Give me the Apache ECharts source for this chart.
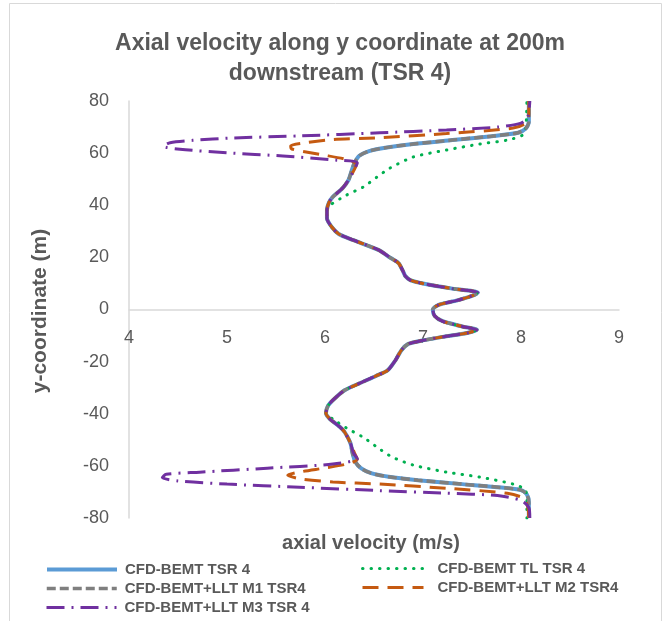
<!DOCTYPE html>
<html>
<head>
<meta charset="utf-8">
<script src="https://cdn.jsdelivr.net/npm/echarts@6/dist/echarts.min.js"></script>
<style>
  html, body { margin: 0; padding: 0; background: #fff; }
  #chart { width: 665px; height: 621px; }
</style>
</head>
<body>
<div id="chart"></div>
<script>
// 坐标轴刻度
const xTicks = [4, 5, 6, 7, 8, 9];
const yTicks = [-80, -60, -40, -20, 0, 20, 40, 60, 80];

// 各曲线共用的中间段 [速度, y]
const coreProfile = [
  [6.26, -51.3], [6.2, -47], [6.15, -45], [6.05, -42], [6.01, -39.8], [6.03, -37],
  [6.08, -34.8], [6.2, -31], [6.36, -28.2], [6.52, -25.5], [6.64, -23.3], [6.72, -19.4],
  [6.78, -15.6], [6.85, -13.2], [6.98, -12], [7.2, -10.5], [7.45, -9], [7.55, -7.8],
  [7.4, -6.5], [7.2, -4.5], [7.12, -2.5], [7.1, 0], [7.16, 1.8], [7.35, 3.5],
  [7.52, 5.5], [7.56, 6.5], [7.3, 8], [7.0, 10], [6.87, 11.3], [6.82, 12.8],
  [6.8, 14.4], [6.75, 17.8], [6.66, 20], [6.55, 22.8], [6.29, 26.6], [6.14, 29],
  [6.07, 31.6], [6.02, 35], [6.02, 38.1], [6.04, 41], [6.08, 43.2], [6.18, 46.6],
  [6.24, 49.7]
];

// CFD-BEMT TSR 4 / M1 的尾流段
const bemtBottom = [
  [8.08, -80], [8.08, -74], [8.06, -71], [8.0, -69.3], [7.8, -68.3], [7.4, -67],
  [6.95, -65.5], [6.65, -64.2], [6.47, -62.8], [6.37, -61], [6.31, -58.5], [6.28, -55]
];
const bemtTop = [
  [6.27, 53], [6.3, 56.2], [6.35, 59], [6.45, 60.8], [6.6, 62], [6.9, 63.5],
  [7.3, 65], [7.7, 66.5], [7.97, 67.8], [8.05, 69.5], [8.08, 72], [8.08, 80]
];

// TL
const tlBottom = [
  [8.06, -80], [8.06, -72], [8.04, -69], [7.92, -67], [7.58, -64.3], [7.24, -62.4],
  [6.9, -59.7], [6.68, -56.5], [6.53, -52.8], [6.39, -49], [6.22, -45.5], [6.08, -42]
];
const tlTop = [
  [6.05, 40], [6.22, 43.9], [6.39, 47], [6.53, 50.8], [6.66, 54.2], [6.9, 58.5],
  [7.24, 61.2], [7.58, 63.5], [7.86, 65], [8.02, 67], [8.05, 70], [8.06, 80]
];

// M2
const m2Bottom = [
  [8.08, -80], [8.07, -76], [8.03, -72.5], [7.86, -70.5], [7.24, -68.6], [6.56, -67],
  [6.08, -66.2], [5.75, -65], [5.62, -63.6], [5.75, -62.3], [6.0, -60.8], [6.22, -59.3],
  [6.33, -57.5], [6.3, -55]
];
const m2Top = [
  [6.29, 53], [6.32, 55.5], [6.25, 57.3], [5.95, 59.5], [5.66, 61.6], [5.65, 62.8],
  [5.8, 64], [6.08, 65.2], [6.56, 65.9], [7.24, 67.5], [7.92, 69.6], [8.05, 71.5],
  [8.08, 75], [8.08, 80]
];

// M3
const m3Bottom = [
  [8.09, -80], [8.08, -76], [8.0, -73.2], [7.76, -71.4], [7.24, -70.5], [6.56, -69.5],
  [5.74, -68.2], [5.0, -67], [4.5, -65.8], [4.34, -64.5], [4.38, -63.2], [4.72, -62.4],
  [5.41, -60.9], [6.08, -59.3], [6.33, -57.3], [6.29, -55]
];
const m3Top = [
  [6.29, 53], [6.33, 56.3], [6.12, 57.3], [5.57, 58.9], [5.0, 60.1], [4.52, 61.5],
  [4.35, 62.6], [4.42, 64], [4.65, 64.9], [5.06, 65.8], [5.74, 66.6], [6.56, 67.8],
  [7.24, 68.9], [7.76, 70], [8.0, 71.5], [8.07, 74], [8.09, 80]
];

const names = ['CFD-BEMT TSR 4', 'CFD-BEMT TL TSR 4', 'CFD-BEMT+LLT M1 TSR4', 'CFD-BEMT+LLT M2 TSR4', 'CFD-BEMT+LLT M3 TSR 4'];

const tlCore = coreProfile.filter(function (p) { return p[1] > -41 && p[1] < 38.5; });

const profiles = [
  bemtBottom.concat(coreProfile, bemtTop),
  tlBottom.concat(tlCore, tlTop),
  bemtBottom.concat(coreProfile, bemtTop),
  m2Bottom.concat(coreProfile, m2Top),
  m3Bottom.concat(coreProfile, m3Top)
];

const lineStyles = [
  { color: '#5B9BD5', width: 4, type: 'solid' },
  { color: '#00B050', width: 3, type: [0.5, 8], cap: 'round' },
  { color: '#7F7F7F', width: 3.5, type: [9, 4] },
  { color: '#C55A11', width: 3, type: [16, 9] },
  { color: '#7030A0', width: 3, type: [18, 7, 2, 7] }
];

const txt = '#595959';
const font = 'Liberation Sans';

const myChart = echarts.init(document.getElementById('chart'));

// 图例位置（两列），legend 自带 5px 内边距
const legendPos = [
  { left: 40, top: 557, w: 70, pad: 3 },
  { left: 356, top: 556, w: 61, pad: 9 },
  { left: 40, top: 576, w: 70, pad: 3 },
  { left: 356, top: 575, w: 61, pad: 9 },
  { left: 40, top: 595, w: 70, pad: 3 }
];

const option = {
  animation: false,
  title: {
    text: 'Axial velocity along y coordinate at 200m\ndownstream (TSR 4)',
    left: 335,
    top: 24,
    textAlign: 'center',
    textStyle: { fontFamily: font, fontSize: 23, fontWeight: 'bold', color: txt, lineHeight: 30 }
  },
  legend: legendPos.map(function (p, i) {
    return {
      data: [names[i]],
      left: p.left,
      top: p.top,
      itemWidth: p.w,
      itemHeight: 14,
      itemStyle: { opacity: 0 },
      lineStyle: { width: lineStyles[i].width },
      textStyle: { fontFamily: font, fontSize: 15, fontWeight: 'bold', color: txt, padding: [0, 0, 0, p.pad] }
    };
  }),
  grid: { left: 129, right: 46, top: 101, bottom: 103 },
  xAxis: {
    type: 'value',
    min: xTicks[0],
    max: xTicks[xTicks.length - 1],
    interval: 1,
    offset: -208.5,
    axisLine: { onZero: false, lineStyle: { color: '#D9D9D9', width: 1.5 } },
    axisTick: { show: false },
    splitLine: { show: false },
    axisLabel: { margin: 20, fontFamily: font, fontSize: 18, color: txt }
  },
  yAxis: {
    type: 'value',
    min: yTicks[0],
    max: yTicks[yTicks.length - 1],
    interval: 20,
    axisLine: { show: true, lineStyle: { color: '#D9D9D9', width: 1.5 } },
    axisTick: { show: false },
    splitLine: { show: false },
    axisLabel: { margin: 20, fontFamily: font, fontSize: 18, color: txt }
  },
  graphic: [
    {
      type: 'rect',
      shape: { x: 9.5, y: 3.5, width: 652, height: 640 },
      style: { fill: 'none', stroke: '#D9D9D9', lineWidth: 1 },
      silent: true
    },
    {
      type: 'text',
      x: 371,
      y: 543,
      style: { text: 'axial velocity (m/s)', fontFamily: font, fontSize: 20, fontWeight: 'bold', fill: txt, align: 'center', verticalAlign: 'middle' }
    },
    {
      type: 'text',
      x: 40,
      y: 311,
      rotation: Math.PI / 2,
      style: { text: 'y-coordinate (m)', fontFamily: font, fontSize: 21, fontWeight: 'bold', fill: txt, align: 'center', verticalAlign: 'middle' }
    }
  ],
  series: profiles.map(function (data, i) {
    return {
      name: names[i],
      type: 'line',
      data: data,
      symbol: 'none',
      smooth: 0.25,
      clip: true,
      lineStyle: lineStyles[i],
      itemStyle: { color: lineStyles[i].color }
    };
  })
};

myChart.setOption(option);
</script>
</body>
</html>
